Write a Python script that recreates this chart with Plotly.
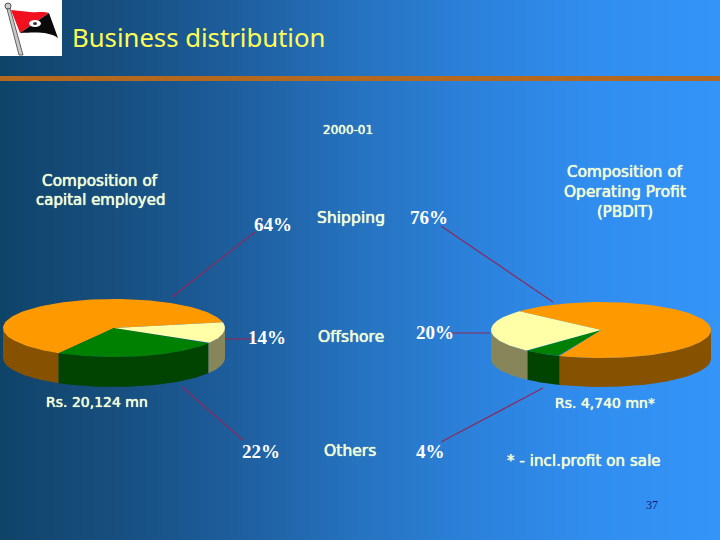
import numpy as np
import plotly.graph_objects as go

# --- data ---
categories = ["Shipping", "Offshore", "Others"]
capital_labels = [64, 14, 22]
profit_labels = [76, 20, 4]
capital_total = "Rs. 20,124 mn"
profit_total = "Rs. 4,740 mn*"
# slice sweeps as they are drawn in the pies (percent of the turn)
capital_slices = [("orange", 63.5), ("green", 24.5), ("yellow", 12.0)]
profit_slices = [("orange", 69.5), ("green", 5.5), ("yellow", 25.0)]

gradient_x = [0, 120, 240, 360, 480, 600, 720]
gradient_c = ["#0f4469", "#174f80", "#1e5f9f", "#2673c0", "#2c82dc", "#318ef0", "#3494f8"]
top_color = {"orange": "#ff9900", "green": "#008000", "yellow": "#ffffa8"}
side_color = {"orange": "#865200", "green": "#004400", "yellow": "#86865a"}

W, H = 720, 540
TXT = "#ecfbd8"
fig = go.Figure()

# background gradient
fx = np.array(gradient_x) / 720
fig.add_trace(go.Heatmap(
    x=np.linspace(0, W, 145), y=[0, H],
    z=[np.linspace(0, 1, 145)] * 2, zmin=0, zmax=1, zsmooth="best",
    colorscale=[[float(a), c] for a, c in zip(fx, gradient_c)],
    showscale=False, hoverinfo="skip"))


def poly(x, y, color):
    fig.add_trace(go.Scatter(x=x, y=y, mode="lines", fill="toself", fillcolor=color,
                             line=dict(width=0), hoverinfo="skip", showlegend=False))


def pie(cx, cy, rx, ry, depth, slices, start, direction):
    """slices are swept from `start` degrees (screen, y up)."""
    a = start
    spans = []
    for name, share in slices:
        b = a + direction * share * 3.6
        spans.append((name, a, b))
        a = b
    # side walls: the part of each slice on the front half
    for name, a, b in spans:
        lo, hi = min(a, b), max(a, b)
        for k in (-360, 0, 360):
            l2, h2 = max(lo + k, 180), min(hi + k, 360)
            if h2 > l2:
                t = np.radians(np.linspace(l2, h2, 60))
                x = cx + rx * np.cos(t)
                y = cy - ry * np.sin(t)
                poly(np.r_[x, x[::-1], x[0]], np.r_[y, y[::-1] + depth, y[0]], side_color[name])
    # top faces
    for name, a, b in spans:
        t = np.radians(np.linspace(a, b, 120))
        poly(np.r_[cx, cx + rx * np.cos(t), cx], np.r_[cy, cy - ry * np.sin(t), cy], top_color[name])


pie(114, 328, 111, 29, 30, capital_slices, 11.5, 1)
pie(601, 330, 110, 28, 29, profit_slices, 138, -1)

# leader lines
leaders = [((172, 297), (255, 232)), ((225, 339), (255, 339)), ((182, 387), (243, 440)),
           ((441, 226), (553, 302)), ((447, 333), (490, 333)), ((441, 442), (543, 388))]
shapes = [dict(type="line", x0=a[0], y0=a[1], x1=b[0], y1=b[1], xref="x", yref="y",
               line=dict(color="#8c2a5c", width=1.2)) for a, b in leaders]

# header stripe and logo
shapes.append(dict(type="rect", x0=0, x1=W, y0=76, y1=81, fillcolor="#b5691f", line_width=0, xref="x", yref="y"))
shapes.append(dict(type="rect", x0=0, x1=62, y0=0, y1=56, fillcolor="#ffffff", line_width=0, xref="x", yref="y"))
shapes.append(dict(type="path", path="M 11,10 L 30,12 C 38,13 42,11 49,13 L 20,33 Z", fillcolor="#f01020", line_width=0, xref="x", yref="y"))
shapes.append(dict(type="path", path="M 20,33 L 49,13 L 58,38 C 50,32 38,32 20,33 Z", fillcolor="#0a0a0a", line_width=0, xref="x", yref="y"))
shapes.append(dict(type="path", path="M 7,9 L 10,8 L 23,55 L 19,55 Z", fillcolor="#c8c8c8", line=dict(color="#444444", width=0.8), xref="x", yref="y"))
shapes.append(dict(type="circle", x0=5, x1=11, y0=3, y1=9, fillcolor="#cccccc", line=dict(color="#333333", width=0.8), xref="x", yref="y"))
shapes.append(dict(type="circle", x0=29, x1=41, y0=20, y1=27, fillcolor="#ffffff", line_width=0, xref="x", yref="y"))
shapes.append(dict(type="circle", x0=33, x1=37, y0=22, y1=25, fillcolor="#333333", line_width=0, xref="x", yref="y"))

HEAVY = "0 0 0.7px #ecfbd8, 0 0 0.7px #ecfbd8"


def text(x, y, s, size, color=TXT, family="DejaVu Sans", anchor="center", weight="normal", shadow=HEAVY):
    return dict(x=x, y=y, text=s, xref="x", yref="y", showarrow=False, xanchor=anchor, yanchor="middle",
                align="center", font=dict(family=family, size=size, color=color, weight=weight, shadow=shadow))


SERIF = "Liberation Serif"
ann = [
    text(70, 37, "Business distribution", 25.7, "#ffff55", "Noto Sans", "left", shadow="none"),
    text(348, 130, "2000-01", 12),
    text(100, 181, "Composition of", 15.3),
    text(100, 200, "capital employed", 15),
    text(625, 172, "Composition of", 15.3),
    text(625, 192, "Operating Profit", 15.4),
    text(625, 212, "(PBDIT)", 15),
    text(97, 402, capital_total, 14),
    text(605, 403, profit_total, 14),
    text(584, 461, "* - incl.profit on sale", 15.2),
    text(652, 505, "37", 12, "#14147a", "Liberation Serif", shadow="none"),
]
cat_y = [218, 337, 451]
left_xy = [(273, 224), (267, 337), (261, 451)]
right_xy = [(429, 217), (435, 332), (430, 451)]
cat_x = [351, 351, 350]
for c, cx, cy, v1, v2, p1, p2 in zip(categories, cat_x, cat_y, capital_labels, profit_labels, left_xy, right_xy):
    ann.append(text(cx, cy, c, 15.6))
    ann.append(text(p1[0], p1[1], f"{v1}%", 19, "#ffffff", SERIF, weight="bold", shadow="none"))
    ann.append(text(p2[0], p2[1], f"{v2}%", 19, "#ffffff", SERIF, weight="bold", shadow="none"))

fig.update_layout(
    width=W, height=H, margin=dict(l=0, r=0, t=0, b=0), showlegend=False,
    paper_bgcolor="#1e5f9f", plot_bgcolor="#1e5f9f",
    xaxis=dict(range=[0, W], visible=False, fixedrange=True),
    yaxis=dict(range=[H, 0], visible=False, fixedrange=True),
    shapes=shapes, annotations=ann)
fig.write_html("out.html", config=dict(displayModeBar=False),
               include_plotlyjs=True, default_width=f"{W}px", default_height=f"{H}px",
               post_script="document.body.style.margin='0';")
